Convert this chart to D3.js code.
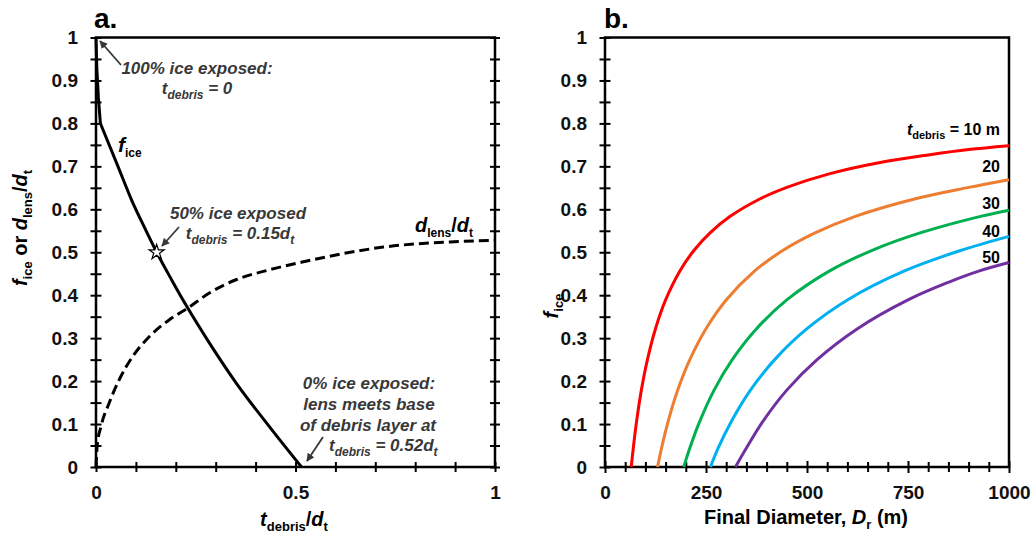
<!DOCTYPE html>
<html><head><meta charset="utf-8">
<script src="https://cdn.jsdelivr.net/npm/d3@7"></script>
<style>
body{margin:0;background:#fff}
text{font-family:"Liberation Sans",Arial,sans-serif;font-weight:bold}
</style>
</head><body><script>
// ---------- Panel a data ----------
const fIceT = [0, 0.002, 0.006, 0.011, 0.055, 0.089, 0.125, 0.152, 0.19, 0.23, 0.284, 0.351, 0.434, 0.515];
const fIceV = [1, 0.93, 0.86, 0.80, 0.70, 0.622, 0.551, 0.5, 0.435, 0.37, 0.289, 0.196, 0.0945, 0];
const dLensT = [0, 0.003, 0.0125, 0.033, 0.058, 0.092, 0.134, 0.184, 0.23, 0.284, 0.351, 0.434, 0.526, 0.62, 0.72, 0.887, 1];
const dLensV = [0, 0.05, 0.0945, 0.149, 0.203, 0.2575, 0.304, 0.343, 0.37, 0.405, 0.436, 0.459, 0.479, 0.497, 0.512, 0.524, 0.528];
const starPoint = [0.152, 0.5];
const xLabelsA = [0, 0.5, 1];
const yLabels = [0, 0.1, 0.2, 0.3, 0.4, 0.5, 0.6, 0.7, 0.8, 0.9, 1];

// ---------- Panel b data ----------
const seriesNames = ["10", "20", "30", "40", "50"];
const seriesColors = ["#ff0000", "#ed7d31", "#00b050", "#00b0f0", "#7030a0"];
const dRed = [65, 70, 78, 90, 105, 125, 150, 185, 220, 260, 309, 383, 450, 557, 681, 804, 900, 1000];
const fRed = [0, 0.044, 0.105, 0.179, 0.25, 0.322, 0.389, 0.456, 0.504, 0.545, 0.583, 0.624, 0.651, 0.683, 0.709, 0.727, 0.739, 0.748];
const dOrange = [130, 140, 156, 180, 210, 250, 300, 370, 440, 520, 618, 766, 900, 1000];
const fOrange = [0, 0.044, 0.105, 0.179, 0.25, 0.322, 0.389, 0.456, 0.504, 0.545, 0.583, 0.624, 0.651, 0.669];
const dGreen = [195, 210, 234, 270, 315, 375, 450, 555, 660, 780, 927, 1000];
const fGreen = [0, 0.044, 0.105, 0.179, 0.25, 0.322, 0.389, 0.456, 0.504, 0.545, 0.583, 0.598];
const dBlue = [261, 280, 312, 360, 420, 500, 600, 740, 880, 1000];
const fBlue = [0, 0.044, 0.105, 0.179, 0.25, 0.322, 0.389, 0.456, 0.504, 0.537];
const dPurple = [323, 350, 390, 450, 525, 625, 750, 850, 925, 1000];
const fPurple = [0, 0.044, 0.105, 0.179, 0.25, 0.322, 0.389, 0.43, 0.456, 0.476];
const xLabelsB = [0, 250, 500, 750, 1000];

const W = 1031, H = 534;
const svg = d3.select("body").append("svg").attr("width", W).attr("height", H);
const annColor = "#383838";

const xA = d3.scaleLinear().domain([0, 1]).range([96, 495]);
const yS = d3.scaleLinear().domain([0, 1]).range([467, 37.5]);
const xB = d3.scaleLinear().domain([0, 1000]).range([605, 1009]);

function near(arr, d) { return arr.some(v => Math.abs(v - d) < 1e-9); }
function fmt(d) { return String(+d.toFixed(2)); }

function rich(parent, x, y, parts, o) {
  const t = parent.append("text").attr("x", x).attr("y", y)
    .attr("font-size", o.size).attr("text-anchor", o.anchor || "start")
    .attr("fill", o.fill || "#000");
  if (o.rotate) t.attr("transform", `rotate(${o.rotate},${x},${y})`);
  if (o.italic) t.attr("font-style", "italic");
  let shift = 0;
  parts.forEach(p => {
    const s = t.append("tspan").text(p.t);
    const target = p.sub ? o.subShift : 0;
    if (target !== shift) { s.attr("dy", target - shift); shift = target; }
    if (p.sub) s.attr("font-size", o.subSize);
    if (p.i) s.attr("font-style", "italic");
  });
  return t;
}

function styleAxis(g, dir, half) {
  g.select(".domain").remove();
  g.selectAll(".tick line").attr("stroke", "#000").attr("stroke-width", 2);
  if (dir === "h") g.selectAll(".tick line").attr("y1", -half).attr("y2", half);
  else g.selectAll(".tick line").attr("x1", -half).attr("x2", half);
  g.selectAll(".tick text").attr("font-size", 19).attr("fill", "#111")
    .attr("font-family", '"Liberation Sans",Arial,sans-serif').attr("font-weight", "bold");
}

const yTickVals = d3.range(0, 21).map(i => i * 0.05);

// ---------- Panel a ----------
const gA = svg.append("g");
const xAxA = gA.append("g").attr("transform", `translate(0,${yS(0)})`)
  .call(d3.axisBottom(xA).tickValues(d3.range(0, 11).map(i => i / 10)).tickSize(0)
    .tickFormat(d => near(xLabelsA, d) ? fmt(d) : ""));
styleAxis(xAxA, "h", 5);
xAxA.selectAll(".tick text").attr("y", 32).attr("dy", 0);
const yAxA = gA.append("g").attr("transform", `translate(${xA(0)},0)`)
  .call(d3.axisLeft(yS).tickValues(yTickVals).tickSize(0)
    .tickFormat(d => near(yLabels, d) ? fmt(d) : ""));
styleAxis(yAxA, "v", 5.5);
yAxA.selectAll(".tick text").attr("x", -18);
const yAxA2 = gA.append("g").attr("transform", `translate(${xA(1)},0)`)
  .call(d3.axisRight(yS).tickValues(yTickVals).tickSize(0).tickFormat(""));
styleAxis(yAxA2, "v", 5);
gA.append("rect").attr("x", xA(0)).attr("y", yS(1)).attr("width", xA(1) - xA(0)).attr("height", yS(0) - yS(1))
  .attr("fill", "none").attr("stroke", "#000").attr("stroke-width", 2.5);

const fIcePts = fIceT.map((t, i) => [t, fIceV[i]]);
const lineLin = d3.line().x(d => xA(d[0])).y(d => yS(d[1]));
const lineMono = d3.line().x(d => xA(d[0])).y(d => yS(d[1])).curve(d3.curveMonotoneX);
gA.append("path").datum(fIcePts.slice(0, 4))
  .attr("d", lineLin).attr("fill", "none").attr("stroke", "#000").attr("stroke-width", 3).attr("stroke-linejoin", "round");
gA.append("path").datum(fIcePts.slice(3))
  .attr("d", lineMono).attr("fill", "none").attr("stroke", "#000").attr("stroke-width", 3).attr("stroke-linejoin", "round");
gA.append("path").datum(dLensT.map((t, i) => [t, dLensV[i]]))
  .attr("d", lineMono)
  .attr("fill", "none").attr("stroke", "#000").attr("stroke-width", 3)
  .attr("stroke-dasharray", "10,5");

gA.append("path").attr("d", d3.symbol(d3.symbolStar).size(70)())
  .attr("transform", `translate(${xA(starPoint[0])},${yS(starPoint[1])})`)
  .attr("fill", "#fff").attr("stroke", "#000").attr("stroke-width", 1.2);

const defs = svg.append("defs");
defs.append("marker").attr("id", "arr").attr("viewBox", "0 0 10 10").attr("refX", 9).attr("refY", 5)
  .attr("markerWidth", 4.5).attr("markerHeight", 4.5).attr("orient", "auto")
  .append("path").attr("d", "M0,0L10,5L0,10Z").attr("fill", annColor);
function arrow(x1, y1, x2, y2) {
  gA.append("line").attr("x1", x1).attr("y1", y1).attr("x2", x2).attr("y2", y2)
    .attr("stroke", annColor).attr("stroke-width", 1.8).attr("marker-end", "url(#arr)");
}
arrow(121, 65, 100, 41);
arrow(179, 227, 162, 246);
arrow(323, 437, 307, 461);

const aOpt = { size: 17, anchor: "middle", fill: annColor, italic: true, subSize: 12, subShift: 5 };
rich(gA, 197, 74, [{ t: "100% ice exposed:" }], aOpt);
rich(gA, 197, 94, [{ t: "t" }, { t: "debris", sub: true }, { t: " = 0" }], aOpt);
rich(gA, 238, 219, [{ t: "50% ice exposed" }], aOpt);
rich(gA, 240, 239, [{ t: "t" }, { t: "debris", sub: true }, { t: " = 0.15d" }, { t: "t", sub: true }], aOpt);
rich(gA, 369, 389, [{ t: "0% ice exposed:" }], aOpt);
rich(gA, 369, 410, [{ t: "lens meets base" }], aOpt);
rich(gA, 368, 431, [{ t: "of debris layer at" }], aOpt);
rich(gA, 329, 451, [{ t: "t" }, { t: "debris", sub: true }, { t: " = 0.52d" }, { t: "t", sub: true }], Object.assign({}, aOpt, { anchor: "start" }));

rich(gA, 118, 152, [{ t: "f", i: true }, { t: "ice", sub: true }], { size: 21, subSize: 12, subShift: 5 });
rich(gA, 415, 232, [{ t: "d", i: true }, { t: "lens", sub: true }, { t: "/" }, { t: "d", i: true }, { t: "t", sub: true }], { size: 20, subSize: 12, subShift: 5 });

rich(gA, 27, 228, [{ t: "f", i: true }, { t: "ice", sub: true }, { t: " or " }, { t: "d", i: true }, { t: "lens", sub: true }, { t: "/" }, { t: "d", i: true }, { t: "t", sub: true }],
  { size: 20, subSize: 13, subShift: 5, anchor: "middle", rotate: -90 });
rich(gA, 294, 526, [{ t: "t", i: true }, { t: "debris", sub: true }, { t: "/" }, { t: "d", i: true }, { t: "t", sub: true }],
  { size: 20, subSize: 13, subShift: 5, anchor: "middle" });
gA.append("text").attr("x", 94).attr("y", 28).attr("font-size", 28).text("a.");

// ---------- Panel b ----------
const gB = svg.append("g");
const xAxB = gB.append("g").attr("transform", `translate(0,${yS(0)})`)
  .call(d3.axisBottom(xB).tickValues(d3.range(0, 21).map(i => i * 50)).tickSize(0)
    .tickFormat(d => near(xLabelsB, d) ? String(d) : ""));
styleAxis(xAxB, "h", 5);
xAxB.selectAll(".tick line").filter(d => near(xLabelsB, d)).attr("y1", -6).attr("y2", 6);
xAxB.selectAll(".tick text").attr("y", 32).attr("dy", 0);
const yAxB = gB.append("g").attr("transform", `translate(${xB(0)},0)`)
  .call(d3.axisLeft(yS).tickValues(yTickVals).tickSize(0)
    .tickFormat(d => near(yLabels, d) ? fmt(d) : ""));
styleAxis(yAxB, "v", 5.5);
yAxB.selectAll(".tick text").attr("x", -18);
gB.append("rect").attr("x", xB(0)).attr("y", yS(1)).attr("width", xB(1000) - xB(0)).attr("height", yS(0) - yS(1))
  .attr("fill", "none").attr("stroke", "#000").attr("stroke-width", 2.5);

const seriesD = [dRed, dOrange, dGreen, dBlue, dPurple];
const seriesF = [fRed, fOrange, fGreen, fBlue, fPurple];
const lineB = d3.line().x(d => xB(d[0])).y(d => yS(d[1])).curve(d3.curveCatmullRom.alpha(0.5));
seriesD.forEach((ds, k) => {
  gB.append("path").datum(ds.map((d, i) => [d, seriesF[k][i]]))
    .attr("d", lineB).attr("fill", "none").attr("stroke", seriesColors[k]).attr("stroke-width", 3);
});

const labelBaselines = [135, 172, 209, 237, 263];
rich(gB, 1000, labelBaselines[0], [{ t: "t", i: true }, { t: "debris", sub: true }, { t: " = " + seriesNames[0] + " m" }],
  { size: 16, subSize: 11, subShift: 4, anchor: "end" });
seriesNames.slice(1).forEach((n, i) => {
  gB.append("text").attr("x", 1000).attr("y", labelBaselines[i + 1]).attr("text-anchor", "end").attr("font-size", 16).text(n);
});

rich(gB, 558, 306, [{ t: "f", i: true }, { t: "ice", sub: true }],
  { size: 20, subSize: 13, subShift: 5, anchor: "middle", rotate: -90 });
rich(gB, 806, 524, [{ t: "Final Diameter, " }, { t: "D", i: true }, { t: "r", sub: true }, { t: " (m)" }],
  { size: 20, subSize: 13, subShift: 5, anchor: "middle" });
gB.append("text").attr("x", 604).attr("y", 28).attr("font-size", 28).text("b.");
</script></body></html>
